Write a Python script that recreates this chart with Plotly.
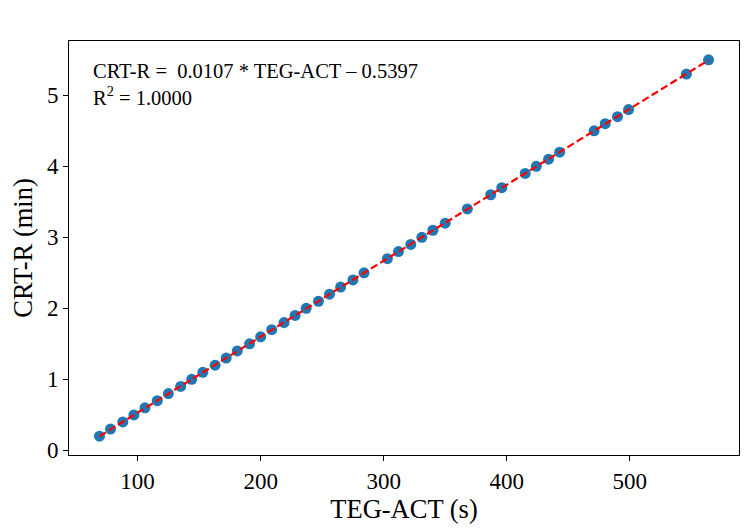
import plotly.graph_objects as go

teg_act = [69, 78, 88, 97, 106, 116, 125, 135, 144, 153, 163, 172, 181, 191, 200,
           209, 219, 228, 237, 247, 256, 265, 275, 284, 303, 312, 322, 331, 340, 350,
           368, 387, 396, 415, 424, 434, 443, 471, 480, 490, 499, 546, 564]
crt_r = [0.2, 0.3, 0.4, 0.5, 0.6, 0.7, 0.8, 0.9, 1.0, 1.1, 1.2, 1.3, 1.4, 1.5, 1.6,
         1.7, 1.8, 1.9, 2.0, 2.1, 2.2, 2.3, 2.4, 2.5, 2.7, 2.8, 2.9, 3.0, 3.1, 3.2,
         3.4, 3.6, 3.7, 3.9, 4.0, 4.1, 4.2, 4.5, 4.6, 4.7, 4.8, 5.3, 5.5]
slope = 0.0107
intercept = -0.5397
r2 = 1.0000

fit_x = [min(teg_act), max(teg_act)]
fit_y = [slope * v + intercept for v in fit_x]

FONT = "Liberation Serif, Times New Roman, serif"

fig = go.Figure()
fig.add_trace(go.Scatter(
    x=teg_act, y=crt_r, mode="markers",
    marker=dict(color="#1f77b4", size=11, line=dict(width=0)),
    showlegend=False))
fig.add_trace(go.Scatter(
    x=fit_x, y=fit_y, mode="lines",
    line=dict(color="red", width=2.2, dash="7.5px,3.5px"),
    showlegend=False))

xmin, xmax = min(teg_act), max(teg_act)
ymin, ymax = min(crt_r), max(crt_r)
xpad = (xmax - xmin) * 0.05
ypad = (ymax - ymin) * 0.05

axis_common = dict(
    showgrid=False, zeroline=False, showline=True, linecolor="black", linewidth=1,
    mirror=True, ticks="outside", ticklen=5, tickwidth=1, tickcolor="black",
    tickfont=dict(family=FONT, size=23, color="black"),
)
fig.update_xaxes(range=[xmin - xpad, xmax + xpad], tickvals=[100, 200, 300, 400, 500],
                 title=dict(text="TEG-ACT (s)", font=dict(family=FONT, size=26.5, color="black"),
                            standoff=4),
                 **axis_common)
fig.update_yaxes(range=[ymin - ypad, ymax + ypad], tickvals=[0, 1, 2, 3, 4, 5],
                 title=dict(text="CRT-R (min)", font=dict(family=FONT, size=26.5, color="black"),
                            standoff=6),
                 **axis_common)

eq = ("CRT-R =\u00a0\u00a0%.4f * TEG-ACT \u2013 %.4f<br>R<sup>2</sup> = %.4f"
      % (slope, abs(intercept), r2))
fig.add_annotation(x=0.033, y=0.958, xref="paper", yref="paper", xanchor="left",
                   yanchor="top", align="left", showarrow=False, text=eq,
                   font=dict(family=FONT, size=20.5, color="black"))

fig.update_layout(
    width=750, height=530, plot_bgcolor="white", paper_bgcolor="white",
    margin=dict(l=69, r=11, t=41, b=75),
)
fig.write_html("out.html")
